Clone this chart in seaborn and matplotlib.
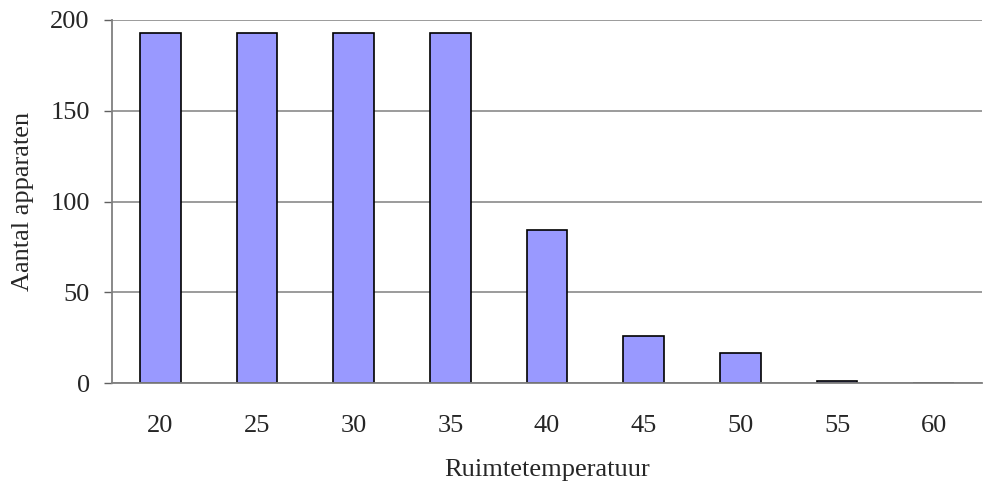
import numpy as np
import pandas as pd
import matplotlib
matplotlib.use("Agg")
import matplotlib.pyplot as plt
import seaborn as sns

temperaturen = ["20", "25", "30", "35", "40", "45", "50", "55", "60"]
aantallen = [193, 193, 193, 193, 84.5, 26, 16.5, 1, 0]

df = pd.DataFrame({"Ruimtetemperatuur": temperaturen, "Aantal": aantallen})

sns.set_style("white")
plt.rcParams["font.family"] = ["Liberation Serif", "DejaVu Serif"]

fig = plt.figure(figsize=(9.83, 4.86), dpi=100)
ax = fig.add_axes([112 / 983, 102.7 / 486, 870 / 983, 363.3 / 486])

sns.barplot(data=df, x="Ruimtetemperatuur", y="Aantal", color="#9999ff",
            saturation=1, width=0.42, edgecolor="black", linewidth=1.2, ax=ax)

ax.set_ylim(0, 200)
ax.set_xlim(-0.5, len(temperaturen) - 0.5)
ax.set_yticks([0, 50, 100, 150, 200])
ax.yaxis.grid(True, color="#808080", linewidth=1.1)
ax.set_axisbelow(True)

for side in ["top", "right"]:
    ax.spines[side].set_visible(False)
for side in ["left", "bottom"]:
    ax.spines[side].set_color("#808080")
    ax.spines[side].set_linewidth(1.3)

fs = 19
ax.set_xticks(np.arange(-0.5, len(temperaturen)), minor=True)
ax.tick_params(axis="x", which="minor", length=7, width=1, color="#606060", direction="out")
ax.tick_params(axis="x", which="major", length=0, pad=23, labelsize=fs)
ax.tick_params(axis="y", length=6, width=1, color="#606060", direction="out", labelsize=fs, pad=10)
ax.tick_params(left=True, bottom=True)

ax.set_xlabel("Ruimtetemperatuur", fontsize=fs, labelpad=16)
ax.set_ylabel("Aantal apparaten", fontsize=fs, labelpad=12)

fig.savefig("out.png", dpi=100)
